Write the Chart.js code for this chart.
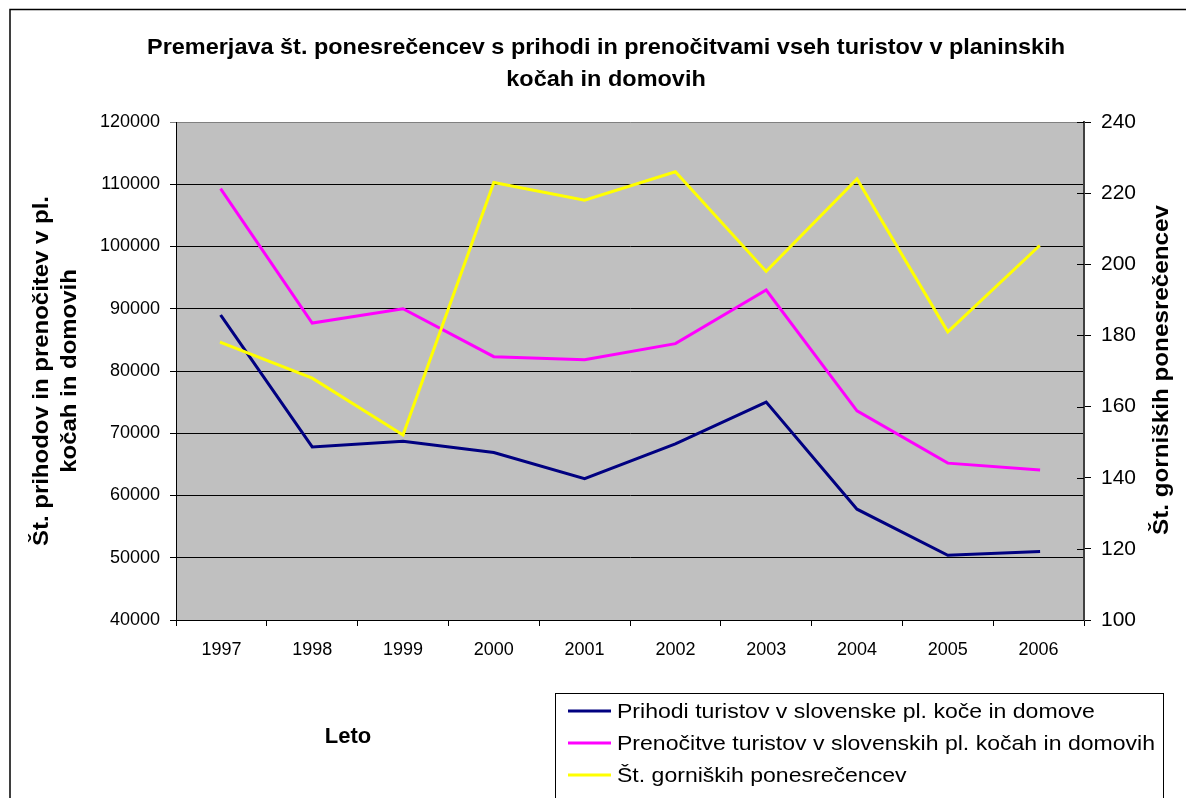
<!DOCTYPE html>
<html>
<head>
<meta charset="utf-8">
<script src="https://cdn.jsdelivr.net/npm/chart.js@4.4.1/dist/chart.umd.min.js"></script>
<style>
    body { margin: 0; background: #fff; }
</style>
</head>
<body>
<canvas id="chart" width="1186" height="798"></canvas>
<script>
// data
const years = ['1997', '1998', '1999', '2000', '2001', '2002', '2003', '2004', '2005', '2006'];
const prihodi = [88800, 67800, 68700, 66900, 62700, 68300, 75000, 57800, 50400, 51000];
const prenocitve = [109100, 87700, 90000, 82300, 81800, 84400, 93000, 73600, 65200, 64100];
const ponesrecenci = [178, 168, 152, 223, 218, 226, 198, 224, 181, 205];

const seriesNames = [
    'Prihodi turistov v slovenske pl. koče in domove',
    'Prenočitve turistov v slovenskih pl. kočah in domovih',
    'Št. gorniških ponesrečencev'
];
const seriesColors = ['#000080', '#FF00FF', '#FFFF00'];
const titleLines = ['Premerjava št. ponesrečencev s prihodi in prenočitvami vseh turistov v planinskih', 'kočah in domovih'];
const leftTitle = ['Št. prihodov in prenočitev v pl.', 'kočah in domovih'];
const rightTitle = 'Št. gorniških ponesrečencev';
const xTitle = 'Leto';

const FONT = '"Liberation Sans", Arial, sans-serif';

// draw text, squeezed horizontally by a factor if asked
function fitText(ctx, text, x, y, sx) {
    ctx.save();
    ctx.translate(x, y);
    if (sx) ctx.scale(sx, 1);
    ctx.fillText(text, 0, 0);
    ctx.restore();
}

const decorations = {
    id: 'decorations',
    beforeDraw(chart) {
        const { ctx, chartArea: a } = chart;
        ctx.save();
        ctx.fillStyle = '#fff';
        ctx.fillRect(0, 0, chart.width, chart.height);
        ctx.fillStyle = '#C0C0C0';
        ctx.fillRect(a.left, a.top, a.right - a.left, a.bottom - a.top);
        ctx.restore();
    },
    afterDraw(chart) {
        const ctx = chart.ctx;
        ctx.save();
        ctx.fillStyle = '#000';
        ctx.textBaseline = 'alphabetic';

        // title
        ctx.textAlign = 'center';
        ctx.font = 'bold 22px ' + FONT;
        const ts = 918 / ctx.measureText(titleLines[0]).width;
        fitText(ctx, titleLines[0], 606, 54, ts);
        fitText(ctx, titleLines[1], 606, 86, ts);

        // left axis title
        ctx.save();
        ctx.translate(48, 371);
        ctx.rotate(-Math.PI / 2);
        const ls = 350 / ctx.measureText(leftTitle[0]).width;
        fitText(ctx, leftTitle[0], 0, 0, ls);
        fitText(ctx, leftTitle[1], 0, 28, ls);
        ctx.restore();

        // right axis title
        ctx.save();
        ctx.translate(1168, 370);
        ctx.rotate(-Math.PI / 2);
        fitText(ctx, rightTitle, 0, 0, 330 / ctx.measureText(rightTitle).width);
        ctx.restore();

        // x axis title
        fitText(ctx, xTitle, 348, 743);

        // legend
        ctx.fillStyle = '#fff';
        ctx.fillRect(555, 693, 608, 110);
        ctx.strokeStyle = '#000';
        ctx.lineWidth = 1;
        ctx.strokeRect(555.5, 693.5, 608, 110);
        ctx.font = '21px ' + FONT;
        ctx.textAlign = 'left';
        const gs = 538 / ctx.measureText(seriesNames[1]).width;
        seriesNames.forEach((name, i) => {
            const y = 711 + i * 32;
            ctx.strokeStyle = seriesColors[i];
            ctx.lineWidth = 3;
            ctx.beginPath();
            ctx.moveTo(568, y);
            ctx.lineTo(611, y);
            ctx.stroke();
            ctx.fillStyle = '#000';
            fitText(ctx, name, 617, y + 7, gs);
        });

        // cross ticks on the right axis (inside part)
        const y1 = chart.scales.y1;
        ctx.strokeStyle = '#000';
        ctx.lineWidth = 1;
        y1.ticks.forEach(t => {
            const py = Math.round(y1.getPixelForValue(t.value)) + 0.5;
            ctx.beginPath();
            ctx.moveTo(y1.left - 7, py);
            ctx.lineTo(y1.left, py);
            ctx.stroke();
        });

        // outer frame
        ctx.lineWidth = 1.5;
        ctx.strokeRect(10, 9.5, 1200, 820);
        ctx.restore();
    }
};

const ctx = document.getElementById('chart').getContext('2d');
new Chart(ctx, {
    type: 'line',
    data: {
        labels: years,
        datasets: [{
            label: seriesNames[0],
            data: prihodi,
            borderColor: seriesColors[0],
            yAxisID: 'y',
            order: 3
        }, {
            label: seriesNames[1],
            data: prenocitve,
            borderColor: seriesColors[1],
            yAxisID: 'y',
            order: 2
        }, {
            label: seriesNames[2],
            data: ponesrecenci,
            borderColor: seriesColors[2],
            yAxisID: 'y1',
            order: 1
        }]
    },
    options: {
        responsive: false,
        animation: false,
        layout: { padding: { top: 122, left: 0, right: 0, bottom: 0 } },
        elements: {
            line: { borderWidth: 3, tension: 0, borderCapStyle: 'square' },
            point: { radius: 0 }
        },
        plugins: {
            legend: { display: false },
            title: { display: false },
            tooltip: { enabled: false }
        },
        scales: {
            x: {
                offset: true,
                grid: { offset: true, drawOnChartArea: false, color: '#000', tickLength: 6 },
                border: { color: '#000', width: 1 },
                ticks: { color: '#000', font: { family: FONT, size: 18 }, padding: 13 },
                afterFit: s => { s.height = 178; }
            },
            y: {
                position: 'left',
                min: 40000,
                max: 120000,
                grid: {
                    color: c => c.tick && c.tick.value === 120000 ? '#808080' : '#000',
                    tickLength: 6
                },
                border: { color: '#000', width: 1 },
                ticks: {
                    stepSize: 10000,
                    color: '#000',
                    font: { family: FONT, size: 18 },
                    padding: 10,
                    callback: v => String(v)
                },
                afterFit: s => { s.width = 176; }
            },
            y1: {
                position: 'right',
                min: 100,
                max: 240,
                grid: { drawOnChartArea: false, color: '#000', tickLength: 7 },
                border: { color: '#404040', width: 2 },
                ticks: { stepSize: 20, color: '#000', font: { family: FONT, size: 21 }, padding: 10 },
                afterFit: s => { s.width = 102; }
            }
        }
    },
    plugins: [decorations]
});
</script>
</body>
</html>
